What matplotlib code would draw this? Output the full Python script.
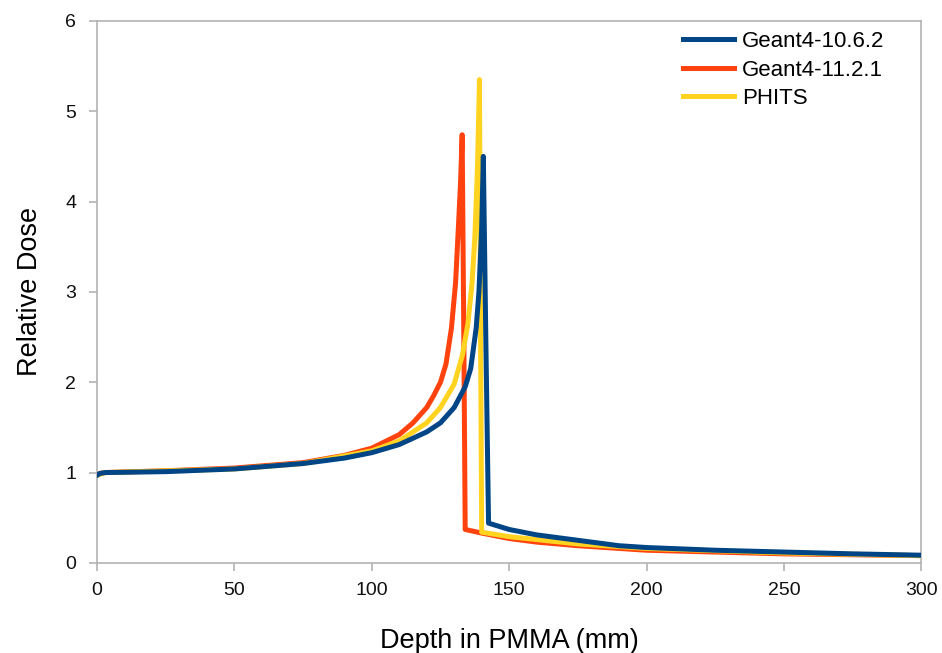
import matplotlib
matplotlib.use('Agg')
import matplotlib.pyplot as plt

plt.rcParams['font.family'] = ['Liberation Sans', 'DejaVu Sans']

# Geant4-10.6.2
g4_10_x = [0, 1, 3, 25, 50, 75, 90, 100, 110, 120, 125, 130, 134, 136, 138, 139, 140, 140.6,
           141.5, 142.5, 150, 160, 175, 190, 200, 225, 250, 275, 300]
g4_10_y = [0.97, 0.99, 1.0, 1.01, 1.04, 1.1, 1.16, 1.22, 1.31, 1.45, 1.55, 1.72, 1.95, 2.15, 2.6, 3.0, 3.7, 4.5,
           2.5, 0.44, 0.37, 0.31, 0.25, 0.19, 0.17, 0.14, 0.12, 0.10, 0.085]

# Geant4-11.2.1
g4_11_x = [0, 1, 3, 25, 50, 75, 90, 100, 110, 115, 120, 122.5, 125, 127, 129, 130.5, 131.5, 132.3, 132.9,
           133.5, 134, 140, 150, 160, 175, 200, 225, 250, 275, 300]
g4_11_y = [0.97, 0.99, 1.0, 1.02, 1.05, 1.11, 1.19, 1.27, 1.42, 1.55, 1.72, 1.85, 2.0, 2.2, 2.6, 3.1, 3.7, 4.2, 4.74,
           2.5, 0.37, 0.33, 0.27, 0.23, 0.19, 0.14, 0.12, 0.10, 0.09, 0.08]

# PHITS
phits_x = [0, 3, 50, 75, 100, 110, 120, 125, 130, 133, 135, 136.5, 137.5, 138.5, 139.2,
           139.6, 140, 150, 175, 200, 250, 300]
phits_y = [0.97, 1.0, 1.04, 1.1, 1.24, 1.35, 1.55, 1.72, 1.98, 2.3, 2.65, 3.1, 3.6, 4.4, 5.35,
           2.5, 0.34, 0.29, 0.21, 0.16, 0.11, 0.08]

fig = plt.figure(figsize=(9.42, 6.53), dpi=100)
ax = fig.add_axes([0.103, 0.138, 0.875, 0.830])

lw = 3.6
l_red, = ax.plot(g4_11_x, g4_11_y, color='#ff420e', lw=lw, label='Geant4-11.2.1', zorder=2)
l_yel, = ax.plot(phits_x, phits_y, color='#ffd320', lw=lw, label='PHITS', zorder=3)
l_blue, = ax.plot(g4_10_x, g4_10_y, color='#004586', lw=lw, label='Geant4-10.6.2', zorder=4)

ax.set_xlim(0, 300)
ax.set_ylim(0, 6)
ax.set_xticks(range(0, 301, 50))
ax.set_yticks(range(0, 7))

grey = '#b3b3b3'
for s in ax.spines.values():
    s.set_color(grey)
    s.set_linewidth(1.2)
ax.tick_params(axis='both', colors=grey, labelcolor='#111111', labelsize=14, length=6, width=1.2)
ax.tick_params(axis='x', pad=8)
ax.tick_params(axis='y', pad=9)

ax.set_xlabel('Depth in PMMA (mm)', fontsize=19.5, labelpad=21)
ax.set_ylabel('Relative Dose', fontsize=19.5, labelpad=16)

ax.legend(handles=[l_blue, l_red, l_yel], loc='upper left', bbox_to_anchor=(0.711, 0.981),
          frameon=False, fontsize=16, handlelength=2.3, handletextpad=0.35,
          labelspacing=0.33, borderaxespad=0, borderpad=0)

fig.savefig('out.png', dpi=100)
